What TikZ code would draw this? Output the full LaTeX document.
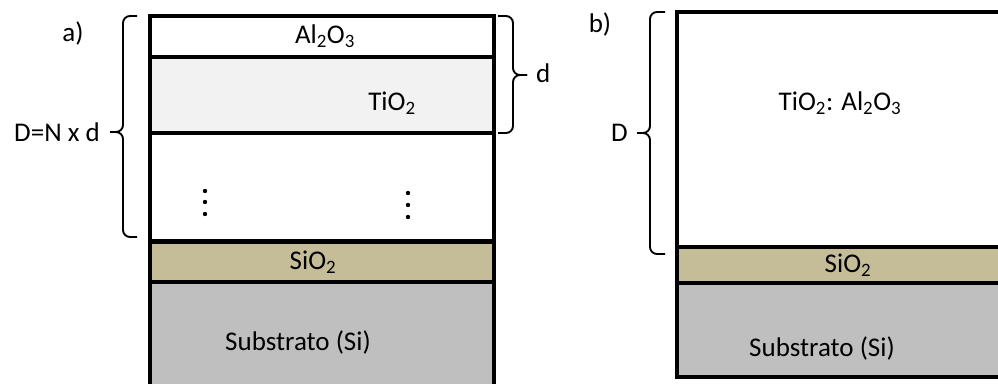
\documentclass[tikz,border=0pt]{standalone}
\usepackage{fontspec}
\setmainfont{Carlito}
\usetikzlibrary{positioning}

\definecolor{tiofill}{HTML}{F2F2F2}
\definecolor{siofill}{HTML}{C4BD97}
\definecolor{subfill}{HTML}{BFBFBF}

\begin{document}
\begin{tikzpicture}[x=1pt,y=1pt,
		layer/.style={draw,line width=3.2pt,rectangle,inner sep=0,outer sep=0},
		lbl/.style={inner sep=0,font=\fontsize{27}{31}\selectfont},
		bracket/.style={line width=1.9pt,rounded corners=7pt}]
		\useasboundingbox (0,0) rectangle (998,383);
		
		% a) multilayer stack
		\node[layer,fill=white,minimum width=344,minimum height=41,anchor=north west]	(alA)	at (150,367)	{};
		\node[layer,fill=tiofill,minimum width=344,minimum height=76]	(tiA)	[below=0pt of alA]		{};
		\node[layer,fill=white,minimum width=344,minimum height=108]	(restA)	[below=0pt of tiA]		{};
		\node[layer,fill=siofill,minimum width=344,minimum height=40]	(sioA)	[below=1pt of restA]	{};
		\node[layer,fill=subfill,minimum width=344,minimum height=110]	(subA)	[below=0pt of sioA]		{};
		
		\node[lbl]	(alTxtA)	at ([xshift=3pt]alA.center)				{Al\textsubscript{2}O\textsubscript{3}};
		\node[lbl]	(tiTxtA)	at ([xshift=70pt,yshift=-8pt]tiA.center)	{TiO\textsubscript{2}};
		\node[lbl]	(sioTxtA)	at ([xshift=-9pt]sioA.center)				{SiO\textsubscript{2}};
		\node[lbl]	(subTxtA)	at (298,41)								{Substrato (Si)};
		
		\foreach \y in {192,181,169} \fill (205,\y) circle (2.2);
		\foreach \y in {190,178,166} \fill (408,\y) circle (2.2);
		
		\node[lbl]	(tagA)	at (73,349)					{a)};
		\node[lbl,anchor=east]	(totA)	at (100,251)	{D=N x d};
		\node[lbl,anchor=west]	(perA)	at (536,310)	{d};
		
		\draw[bracket]	(137,367) -- (123,367) -- (123,251) -- (110,251);
		\draw[bracket]	(110,251) -- (123,251) -- (123,146) -- (137,146);
		\draw[bracket]	(498,367) -- (513,367) -- (513,308) -- (527,308);
		\draw[bracket]	(527,308) -- (513,308) -- (513,250) -- (498,250);
		
		% b) mixed film
		\node[layer,fill=white,minimum width=340,minimum height=235,anchor=north west]	(mixB)	at (677,371)	{};
		\node[layer,fill=siofill,minimum width=340,minimum height=36]	(sioB)	[below=0pt of mixB]	{};
		\node[layer,fill=subfill,minimum width=340,minimum height=94]	(subB)	[below=0pt of sioB]	{};
		
		\node[lbl]	(mixTxtB)	at (840,280)	{TiO\textsubscript{2}: Al\textsubscript{2}O\textsubscript{3}};
		\node[lbl]	(sioTxtB)	at (848,118)	{SiO\textsubscript{2}};
		\node[lbl]	(subTxtB)	at (822,35)		{Substrato (Si)};
		
		\node[lbl]	(tagB)	at (600,358)				{b)};
		\node[lbl,anchor=east]	(totB)	at (628,250)	{D};
		
		\draw[bracket]	(665,371) -- (650,371) -- (650,250) -- (637,250);
		\draw[bracket]	(637,250) -- (650,250) -- (650,129) -- (665,129);
\end{tikzpicture}
\end{document}
